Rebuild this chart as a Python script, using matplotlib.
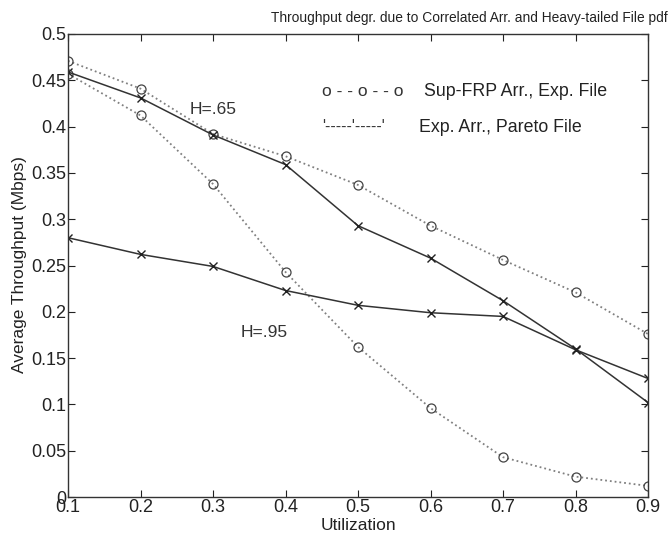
import matplotlib
matplotlib.use("Agg")
import matplotlib.pyplot as plt

plt.rcParams['font.family'] = ['Liberation Sans', 'DejaVu Sans']

utilization = [0.1, 0.2, 0.3, 0.4, 0.5, 0.6, 0.7, 0.8, 0.9]
# Sup-FRP Arr., Exp. File (dotted, circles)
sup_h65 = [0.471, 0.441, 0.392, 0.368, 0.337, 0.293, 0.256, 0.221, 0.176]
sup_h95 = [0.457, 0.412, 0.338, 0.243, 0.162, 0.096, 0.043, 0.022, 0.012]
# Exp. Arr., Pareto File (solid, x markers)
exp_h65 = [0.459, 0.431, 0.391, 0.359, 0.293, 0.258, 0.212, 0.160, 0.102]
exp_h95 = [0.280, 0.262, 0.249, 0.223, 0.207, 0.199, 0.195, 0.159, 0.128]

xticks = [0.1, 0.2, 0.3, 0.4, 0.5, 0.6, 0.7, 0.8, 0.9]
yticks = [0, 0.05, 0.1, 0.15, 0.2, 0.25, 0.3, 0.35, 0.4, 0.45, 0.5]
ytick_labels = ['0', '0.05', '0.1', '0.15', '0.2', '0.25', '0.3', '0.35', '0.4', '0.45', '0.5']

W, H = 672, 538
fig = plt.figure(figsize=(W / 100, H / 100), dpi=100)
left, right, top, bottom = 68, 648, 34, 497
ax = fig.add_axes([left / W, 1 - bottom / H, (right - left) / W, (bottom - top) / H])

dot_color = '#808080'
for ys in (sup_h65, sup_h95):
    ax.plot(utilization, ys, linestyle=':', color=dot_color, linewidth=1.3,
            marker='o', markersize=6.5, markerfacecolor='none',
            markeredgecolor='#444444', markeredgewidth=0.9)
for ys in (exp_h65, exp_h95):
    ax.plot(utilization, ys, linestyle='-', color='#333333', linewidth=1.1,
            marker='x', markersize=6, markeredgecolor='#222222', markeredgewidth=1.0)

ax.set_xlim(0.1, 0.9)
ax.set_ylim(0, 0.5)
ax.set_xticks(xticks)
ax.set_xticklabels([f'{v:g}' for v in xticks])
ax.set_yticks(yticks)
ax.set_yticklabels(ytick_labels)
ax.tick_params(direction='in', top=True, right=True, length=5, width=0.8,
               labelsize=13, colors='#222222', pad=1.5)
for s in ax.spines.values():
    s.set_linewidth(1.0)
    s.set_color('#333333')

ax.text(0.3, 0.418, 'H=.65', fontsize=12.5, color='#333333', ha='center', va='center')
ax.text(0.37, 0.178, 'H=.95', fontsize=12.5, color='#333333', ha='center', va='center')

fig.text(322 / W, 1 - 92 / H, 'o - - o - - o', fontsize=12.5, color='#333333', va='center')
fig.text(424 / W, 1 - 92 / H, 'Sup-FRP Arr., Exp. File', fontsize=12.8, color='#222222', va='center')
fig.text(322 / W, 1 - 126 / H, "'-----'-----'", fontsize=11.5, color='#333333', va='center')
fig.text(419 / W, 1 - 128 / H, 'Exp. Arr., Pareto File', fontsize=12.8, color='#222222', va='center')

fig.text(668 / W, 1 - 18 / H, 'Throughput degr. due to Correlated Arr. and Heavy-tailed File pdf',
         fontsize=9.9, color='#222222', ha='right', va='center')
fig.text(358 / W, 1 - 526 / H, 'Utilization', fontsize=12.5, color='#222222', ha='center', va='center')
fig.text(20 / W, 1 - 265 / H, 'Average Throughput (Mbps)', fontsize=12.5, color='#222222',
         ha='center', va='center', rotation=90)

fig.savefig('out.png', dpi=100)
